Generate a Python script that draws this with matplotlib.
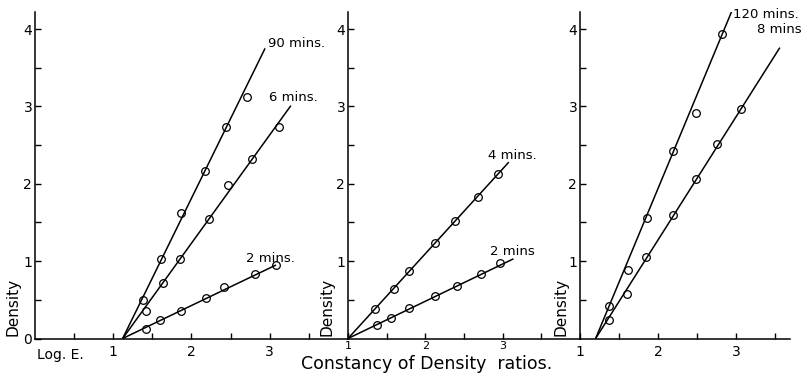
import matplotlib.pyplot as plt

# --- panel 1 (0 - 4 on x, origin "Log. E.") ---
p1_90_x = [1.38, 1.61, 1.86, 2.17, 2.44, 2.71]
p1_90_y = [0.50, 1.03, 1.62, 2.17, 2.73, 3.12]
p1_6_x = [1.42, 1.63, 1.85, 2.22, 2.47, 2.77, 3.12]
p1_6_y = [0.35, 0.72, 1.03, 1.54, 1.98, 2.32, 2.73]
p1_2_x = [1.42, 1.60, 1.86, 2.18, 2.42, 2.81, 3.08]
p1_2_y = [0.125, 0.24, 0.36, 0.52, 0.67, 0.83, 0.95]
p1_fit = {'90 mins.': ([1.12, 2.94], [0, 3.75]),
          '6 mins.': ([1.12, 3.27], [0, 3.01]),
          '2 mins.': ([1.12, 3.08], [0, 0.95])}

# --- panel 2 ---
p2_4_x = [1.35, 1.59, 1.79, 2.12, 2.39, 2.68, 2.94]
p2_4_y = [0.38, 0.645, 0.87, 1.23, 1.52, 1.83, 2.13]
p2_2_x = [1.37, 1.56, 1.79, 2.12, 2.41, 2.72, 2.97]
p2_2_y = [0.18, 0.27, 0.39, 0.545, 0.68, 0.83, 0.97]
p2_fit = {'4 mins.': ([1.0, 3.08], [0, 2.28]),
          '2 mins': ([1.0, 3.14], [0, 1.03])}

# --- panel 3 ---
p3_120_x = [1.37, 1.61, 1.86, 2.19, 2.48, 2.82]
p3_120_y = [0.42, 0.89, 1.56, 2.42, 2.92, 3.94]
p3_8_x = [1.37, 1.60, 1.85, 2.19, 2.48, 2.76, 3.06]
p3_8_y = [0.245, 0.57, 1.05, 1.59, 2.06, 2.51, 2.97]
p3_fit = {'120 mins.': ([1.2, 2.94], [0, 4.22]),
          '8 mins': ([1.2, 3.56], [0, 3.76])}

labels = {
    0: [('90 mins.', 2.98, 3.81), ('6 mins.', 2.99, 3.12), ('2 mins.', 2.70, 1.04)],
    1: [('4 mins.', 2.81, 2.37), ('2 mins', 2.83, 1.13)],
    2: [('120 mins.', 2.96, 4.19), ('8 mins', 3.27, 4.00)],
}

plt.rcParams['font.family'] = 'DejaVu Sans'

fig = plt.figure(figsize=(8.04, 3.75), dpi=100)
W, H = 804, 375
base = 338.5
top = 12
hgt = (base - top) / H
ax1 = fig.add_axes([35 / W, (H - base) / H, 313 / W, hgt])
ax2 = fig.add_axes([348 / W, (H - base) / H, 232 / W, hgt])
ax3 = fig.add_axes([580 / W, (H - base) / H, 210 / W, hgt])
axes = [ax1, ax2, ax3]

ax1.set_xlim(0, 4)
ax2.set_xlim(1, 4)
ax3.set_xlim(1, 3.69)

series = [
    [(p1_90_x, p1_90_y), (p1_6_x, p1_6_y), (p1_2_x, p1_2_y)],
    [(p2_4_x, p2_4_y), (p2_2_x, p2_2_y)],
    [(p3_120_x, p3_120_y), (p3_8_x, p3_8_y)],
]
fits = [p1_fit, p2_fit, p3_fit]

for i, ax in enumerate(axes):
    ax.set_ylim(0, 4.22)
    ax.patch.set_alpha(0)
    for s in ['top', 'right']:
        ax.spines[s].set_visible(False)
    for s in ['left', 'bottom']:
        ax.spines[s].set_linewidth(1.1)
    for name, (fx, fy) in fits[i].items():
        ax.plot(fx, fy, color='black', lw=1.1, solid_capstyle='butt')
    for xs, ys in series[i]:
        ax.plot(xs, ys, 'o', ms=5.5, mfc='none', mec='black', mew=0.9)
    for txt, tx, ty in labels[i]:
        ax.text(tx, ty, txt, fontsize=9.5, ha='left', va='center')

    ax.set_yticks([0.5, 1.5, 2.5, 3.5], minor=True)
    ax.tick_params(axis='both', which='both', direction='in', length=4,
                   width=1, labelsize=10)
    ax.tick_params(axis='y', pad=2)
    ax.tick_params(axis='x', pad=5)

ax1.set_yticks([0, 1, 2, 3, 4])
ax1.set_xticks([1, 2, 3])
ax1.set_xticks([0.5, 1.5, 2.5, 3.5, 4.0], minor=True)
ax1.text(0.03, -0.03, 'Log. E.', fontsize=10, ha='left', va='top',
         transform=ax1.get_xaxis_transform())

ax2.set_yticks([1, 2, 3, 4])
ax2.set_xticks([1, 2, 3])
ax2.set_xticks([1.5, 2.5, 3.5], minor=True)
# small figures squeezed above the axis title
ax2.tick_params(axis='x', labelsize=8, pad=2)

ax3.set_yticks([1, 2, 3, 4])
ax3.set_xticks([1, 2, 3])
ax3.set_xticks([1.5, 2.5, 3.5], minor=True)

for xc in [13, 327, 561]:
    fig.text(xc / W, (H - 336) / H, 'Density', rotation=90, fontsize=11,
             ha='center', va='bottom')

fig.text(427 / W, (H - 364) / H, 'Constancy of Density  ratios.', fontsize=12.5,
         ha='center', va='center')

fig.savefig('out.png', dpi=100, facecolor='white')
